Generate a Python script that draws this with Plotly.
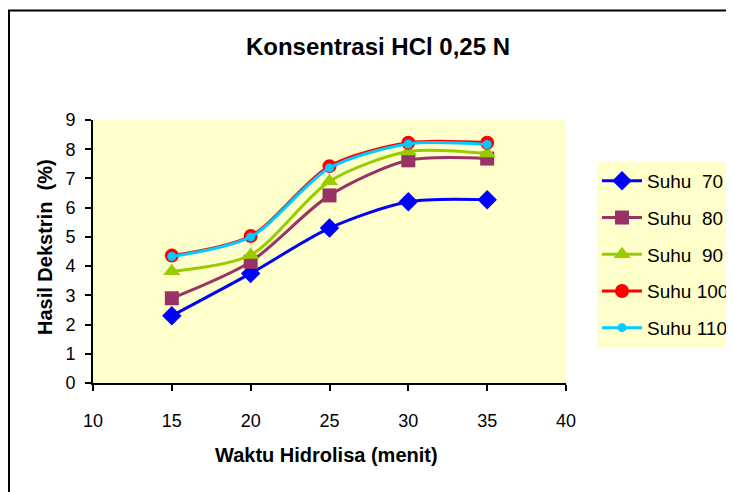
import plotly.graph_objects as go

waktu = [15, 20, 25, 30, 35]
suhu_70 = [2.3, 3.75, 5.3, 6.2, 6.27]
suhu_80 = [2.9, 4.15, 6.42, 7.62, 7.68]
suhu_90 = [3.82, 4.38, 6.9, 7.92, 7.85]
suhu_100 = [4.36, 5.03, 7.42, 8.22, 8.22]
suhu_110 = [4.33, 5.0, 7.36, 8.18, 8.16]

names = ["Suhu\u00a0\u00a070", "Suhu\u00a0\u00a080", "Suhu\u00a0\u00a090", "Suhu 100", "Suhu 110"]
series = [suhu_70, suhu_80, suhu_90, suhu_100, suhu_110]
colors = ["#0000FF", "#993366", "#99CC00", "#FF0000", "#00CCFF"]
symbols = ["diamond", "square", "triangle-up", "circle", "circle"]
sizes = [15, 14, 15, 14, 9]

fig = go.Figure()
for i, (n, s, c, sym, sz) in enumerate(zip(names, series, colors, symbols, sizes)):
    fig.add_trace(go.Scatter(
        x=waktu, y=s, name=n, mode="lines+markers",
        line=dict(color=c, width=3, shape="spline", smoothing=0.8),
        marker=dict(symbol=sym, size=sz, color=c),
        legendgroup=str(i),
    ))

font_family = "Liberation Sans, Arial, sans-serif"
W, H = 726, 484
L, R, T, B = 85, 168, 112, 109
pw, ph = W - L - R, H - T - B

def px_x(fx):
    return (fx - L) / pw

def px_y(fy):
    return 1 - (fy - T) / ph

fig.update_layout(
    width=W, height=H,
    margin=dict(l=L, r=R, t=T, b=B, autoexpand=False),
    paper_bgcolor="white",
    plot_bgcolor="#FFFFCC",
    font=dict(family=font_family, size=18, color="black"),
    title=dict(text="<b>Konsentrasi HCl 0,25 N</b>", x=370 / W, xanchor="center",
               y=1 - 39 / H, yanchor="middle", font=dict(size=24, family=font_family)),
    xaxis=dict(range=[10, 40], dtick=5, showline=True, linecolor="black", linewidth=2,
               ticks="outside", ticklen=6, tickcolor="black", tickwidth=2,
               ticklabelstandoff=14,
               showgrid=False, zeroline=False, mirror=False),
    yaxis=dict(range=[0, 9], dtick=1, showline=True, linecolor="black", linewidth=2,
               ticks="outside", ticklen=6, tickcolor="black", tickwidth=2,
               ticklabelstandoff=6,
               showgrid=False, zeroline=False),
    legend=dict(x=px_x(589), xanchor="left", y=px_y(154), yanchor="top",
                bgcolor="#FFFFCC", borderwidth=0, tracegroupgap=9,
                font=dict(size=19), itemwidth=40),
    showlegend=True,
    annotations=[
        dict(text="<b>Waktu Hidrolisa (menit)</b>", xref="paper", yref="paper",
             x=px_x(318.5), y=px_y(447), xanchor="center", yanchor="middle",
             showarrow=False, font=dict(size=20)),
        dict(text="<b>Hasil Dekstrin\u00a0\u00a0(%)</b>", xref="paper", yref="paper",
             x=px_x(37), y=px_y(239), xanchor="center", yanchor="middle",
             textangle=-90, showarrow=False, font=dict(size=20)),
    ],
    shapes=[dict(type="rect", xref="paper", yref="paper",
                 x0=px_x(1), x1=1.6, y0=-0.6, y1=px_y(2.5),
                 line=dict(color="black", width=2), fillcolor="rgba(0,0,0,0)", layer="below")],
)

fig.write_html("out.html")
